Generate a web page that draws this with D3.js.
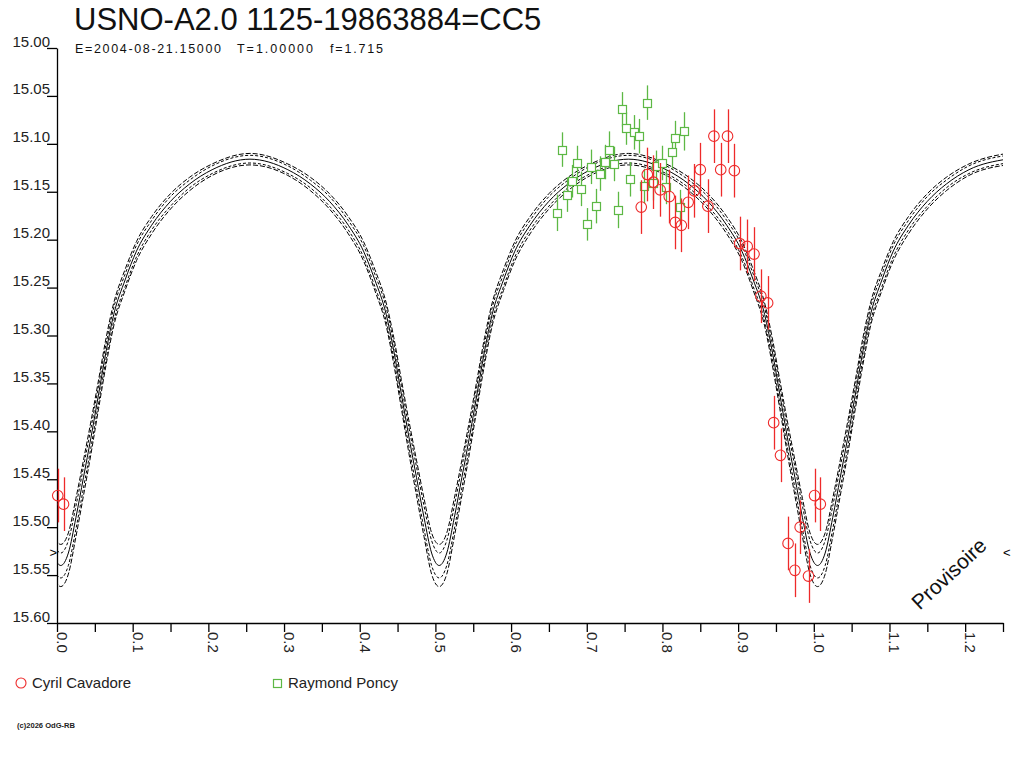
<!DOCTYPE html>
<html>
<head>
<meta charset="utf-8">
<script src="https://cdn.jsdelivr.net/npm/d3@7/dist/d3.min.js"></script>
<style>
  html, body { margin: 0; padding: 0; background: #fff; }
  svg { display: block; font-family: "Liberation Sans", Arial, sans-serif; }
</style>
</head>
<body>
<svg id="chart" width="1024" height="768"></svg>
<script>
// ---------------- DATA ----------------
const titleText = "USNO-A2.0 1125-19863884=CC5";
const subtitleParts = ["E=2004-08-21.15000", "T=1.00000", "f=1.715"];
const seriesNames = ["Cyril Cavadore", "Raymond Poncy"];

const yTickValues = [15.00, 15.05, 15.10, 15.15, 15.20, 15.25, 15.30, 15.35, 15.40, 15.45, 15.50, 15.55, 15.60];
const xMajorTicks = [0.0, 0.1, 0.2, 0.3, 0.4, 0.5, 0.6, 0.7, 0.8, 0.9, 1.0, 1.1, 1.2];
const xMinorTicks = [0.05, 0.15, 0.25, 0.35, 0.45, 0.55, 0.65, 0.75, 0.85, 0.95, 1.05, 1.15, 1.25];

// Cyril Cavadore (red circles)
const redPhase = [0.001, 0.0086, 0.772, 0.780, 0.788, 0.797, 0.809, 0.817, 0.825, 0.834, 0.842, 0.850, 0.860, 0.868,
                  0.877, 0.886, 0.895, 0.902, 0.912, 0.921, 0.930, 0.939, 0.947, 0.956, 0.966, 0.975, 0.982, 0.993];
const redMag   = [15.467, 15.476, 15.166, 15.132, 15.140, 15.148, 15.155, 15.182, 15.185, 15.161, 15.149, 15.127, 15.165, 15.092,
                  15.127, 15.092, 15.128, 15.204, 15.207, 15.215, 15.259, 15.266, 15.391, 15.425, 15.517, 15.545, 15.500, 15.551];
const redErr   = [0.028, 0.028, 0.028, 0.028, 0.028, 0.028, 0.028, 0.028, 0.028, 0.028, 0.028, 0.028, 0.028, 0.028,
                  0.028, 0.028, 0.028, 0.028, 0.028, 0.028, 0.028, 0.028, 0.028, 0.028, 0.028, 0.028, 0.028, 0.028];

// Raymond Poncy (green squares)
const greenPhase = [0.661, 0.667, 0.674, 0.681, 0.687, 0.692, 0.700, 0.706, 0.712, 0.717, 0.724, 0.730, 0.736, 0.741, 0.746,
                    0.752, 0.757, 0.763, 0.769, 0.775, 0.780, 0.788, 0.792, 0.800, 0.805, 0.812, 0.817, 0.823, 0.828];
const greenMag   = [15.172, 15.106, 15.153, 15.139, 15.120, 15.147, 15.184, 15.124, 15.165, 15.131, 15.119, 15.106, 15.121, 15.169, 15.064,
                    15.084, 15.137, 15.088, 15.092, 15.144, 15.057, 15.141, 15.123, 15.120, 15.145, 15.108, 15.094, 15.166, 15.087];
const greenErr   = [0.019, 0.018, 0.018, 0.017, 0.018, 0.018, 0.017, 0.018, 0.018, 0.018, 0.018, 0.019, 0.018, 0.019, 0.018,
                    0.017, 0.018, 0.018, 0.018, 0.018, 0.018, 0.018, 0.016, 0.018, 0.018, 0.018, 0.018, 0.018, 0.020];

// Model light curves: half cycle, as distance in phase from a minimum
const modelMinima = [0.005, 0.505, 1.005];
const halfD         = [0, 0.01, 0.02, 0.03, 0.04, 0.05, 0.06, 0.07, 0.085, 0.10, 0.12, 0.145, 0.17, 0.20, 0.25];
const modelMid      = [15.540, 15.527, 15.490, 15.448, 15.406, 15.361, 15.316, 15.278, 15.242, 15.212, 15.185, 15.160, 15.142, 15.127, 15.116];
const modelDeep1    = [15.553, 15.540, 15.502, 15.459, 15.416, 15.370, 15.324, 15.285, 15.249, 15.218, 15.190, 15.165, 15.146, 15.131, 15.120];
const modelDeep2    = [15.562, 15.549, 15.510, 15.467, 15.423, 15.376, 15.330, 15.290, 15.253, 15.222, 15.194, 15.168, 15.149, 15.133, 15.122];
const modelShallow1 = [15.527, 15.514, 15.478, 15.437, 15.396, 15.352, 15.308, 15.271, 15.236, 15.206, 15.180, 15.155, 15.138, 15.123, 15.112];
const modelShallow2 = [15.518, 15.506, 15.470, 15.430, 15.389, 15.346, 15.302, 15.266, 15.231, 15.202, 15.176, 15.152, 15.135, 15.121, 15.110];

// ---------------- DRAW ----------------
const RED = "#ee2a2a", GREEN = "#5db845";
const svg = d3.select("#chart");
svg.append("rect").attr("width", 1024).attr("height", 768).attr("fill", "#fff");

const x = d3.scaleLinear().domain([0, 1.25]).range([57, 1003]);
const y = d3.scaleLinear().domain([15.0, 15.6]).range([48, 623]);

// title
svg.append("text").attr("x", 74).attr("y", 30).attr("font-size", 31).attr("fill", "#111").text(titleText);
const subX = [75, 237, 330], subW = [146, 76, 53];
subtitleParts.forEach((t, i) => {
  svg.append("text").attr("x", subX[i]).attr("y", 53).attr("font-size", 12.5)
    .attr("textLength", subW[i]).attr("lengthAdjust", "spacing").attr("fill", "#111").text(t);
});

// clip
svg.append("clipPath").attr("id", "plotclip").append("rect")
  .attr("x", 57).attr("y", 40).attr("width", 946).attr("height", 583);

// model curves
function buildCurve(vals) {
  const pts = [];
  modelMinima.forEach(c => {
    halfD.forEach((d, i) => {
      pts.push([c - d, vals[i]]);
      if (d > 0) pts.push([c + d, vals[i]]);
    });
  });
  pts.sort((a, b) => a[0] - b[0]);
  const out = [];
  pts.forEach(p => { if (!out.length || Math.abs(out[out.length - 1][0] - p[0]) > 1e-9) out.push(p); });
  return out;
}
const line = d3.line().x(d => x(d[0])).y(d => y(d[1])).curve(d3.curveMonotoneX);
const curveDefs = [
  { v: modelShallow2, dash: "5,2" },
  { v: modelShallow1, dash: "3,2" },
  { v: modelDeep1, dash: "3,2" },
  { v: modelDeep2, dash: "5,2" },
  { v: modelMid, dash: null }
];
const cg = svg.append("g").attr("clip-path", "url(#plotclip)");
curveDefs.forEach(cd => {
  cg.append("path").attr("d", line(buildCurve(cd.v))).attr("fill", "none")
    .attr("stroke", "#000").attr("stroke-width", 1)
    .attr("stroke-dasharray", cd.dash);
});

// axes
const yAxis = svg.append("g").attr("transform", "translate(57,0)")
  .call(d3.axisLeft(y).tickValues(yTickValues).tickFormat(d3.format(".2f")).tickSize(10).tickSizeOuter(0));
yAxis.select(".domain").attr("stroke", "#000").attr("stroke-width", 1.3);
yAxis.selectAll(".tick line").attr("stroke", "#000").attr("stroke-width", 1.3);
yAxis.selectAll(".tick text").attr("x", -7).attr("y", -2).attr("dy", null)
  .attr("font-size", 15).attr("font-family", "Liberation Sans, Arial, sans-serif").attr("fill", "#222");

const allXTicks = xMajorTicks.concat(xMinorTicks).sort((a, b) => a - b);
const xAxis = svg.append("g").attr("transform", "translate(0,623)")
  .call(d3.axisBottom(x).tickValues(allXTicks).tickSize(9).tickSizeOuter(0).tickFormat(""));
xAxis.select(".domain").attr("stroke", "#000").attr("stroke-width", 1.3);
xAxis.selectAll(".tick line").attr("stroke", "#000").attr("stroke-width", 1.3);
xAxis.selectAll(".tick text").remove();
xMajorTicks.forEach(t => {
  xAxis.append("text").attr("transform", `translate(${x(t)},9) rotate(90)`)
    .attr("text-anchor", "start").attr("font-size", 15).attr("fill", "#222")
    .text(d3.format(".1f")(t));
});

// side markers
svg.append("text").attr("x", 57).attr("y", 557).attr("text-anchor", "end").attr("font-size", 13).text(">");
svg.append("text").attr("x", 1003).attr("y", 557).attr("text-anchor", "start").attr("font-size", 13).text("<");

// Provisoire
svg.append("text").attr("transform", "translate(954,579) rotate(-43)").attr("text-anchor", "middle")
  .attr("font-size", 21).attr("fill", "#111").text("Provisoire");

// data
function expand(ph, mg, er) {
  const out = [];
  ph.forEach((p, i) => {
    out.push({ p: p, m: mg[i], e: er[i] });
    if (p + 1 <= 1.25) out.push({ p: p + 1, m: mg[i], e: er[i] });
  });
  return out;
}
const greenPts = expand(greenPhase, greenMag, greenErr);
const redPts = expand(redPhase, redMag, redErr);

const gg = svg.append("g");
gg.selectAll("line.eb").data(greenPts).enter().append("line")
  .attr("x1", d => Math.round(x(d.p)) + 0.5).attr("x2", d => Math.round(x(d.p)) + 0.5)
  .attr("y1", d => y(d.m - d.e)).attr("y2", d => y(d.m + d.e))
  .attr("stroke", GREEN).attr("stroke-width", 1.3);
gg.selectAll("rect").data(greenPts).enter().append("rect")
  .attr("x", d => Math.round(x(d.p)) - 3.5).attr("y", d => Math.round(y(d.m)) - 3.5)
  .attr("width", 8).attr("height", 8).attr("fill", "#fff").attr("stroke", GREEN).attr("stroke-width", 1.2);

const rg = svg.append("g");
rg.selectAll("line.eb").data(redPts).enter().append("line")
  .attr("x1", d => Math.round(x(d.p)) + 0.5).attr("x2", d => Math.round(x(d.p)) + 0.5)
  .attr("y1", d => y(d.m - d.e)).attr("y2", d => y(d.m + d.e))
  .attr("stroke", RED).attr("stroke-width", 1.3);
rg.selectAll("circle").data(redPts).enter().append("circle")
  .attr("cx", d => x(d.p)).attr("cy", d => y(d.m)).attr("r", 5.3)
  .attr("fill", "none").attr("stroke", RED).attr("stroke-width", 1.1);

// legend
svg.append("circle").attr("cx", 21).attr("cy", 683).attr("r", 5).attr("fill", "none").attr("stroke", RED).attr("stroke-width", 1.1);
svg.append("text").attr("x", 32).attr("y", 688).attr("font-size", 15).attr("fill", "#222").text(seriesNames[0]);
svg.append("rect").attr("x", 273.5).attr("y", 679.5).attr("width", 8).attr("height", 8).attr("fill", "none").attr("stroke", GREEN).attr("stroke-width", 1.2);
svg.append("text").attr("x", 288).attr("y", 688).attr("font-size", 15).attr("fill", "#222").text(seriesNames[1]);

// copyright
svg.append("text").attr("x", 17).attr("y", 728).attr("font-size", 7.5).attr("font-weight", "bold")
  .attr("textLength", 58).attr("lengthAdjust", "spacingAndGlyphs").attr("fill", "#222").text("(c)2026 OdG-RB");
</script>
</body>
</html>
